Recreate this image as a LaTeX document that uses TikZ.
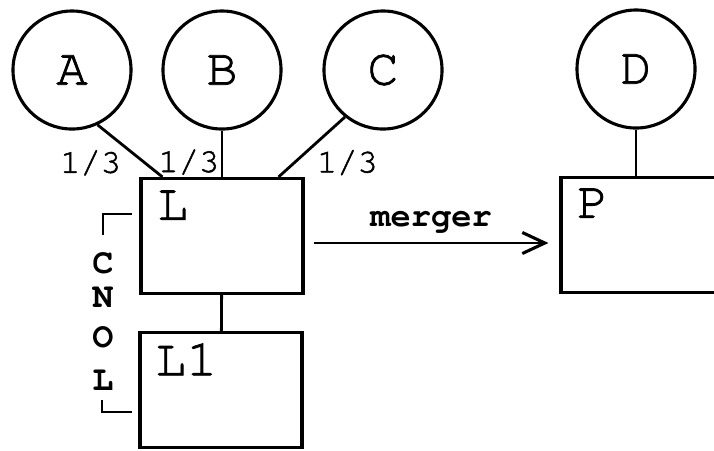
\documentclass[tikz,border=0pt]{standalone}
\usepackage{fontspec}
\setmonofont{texgyrecursor-regular.otf}[BoldFont=texgyrecursor-bold.otf]
\newfontfamily\courthick{texgyrecursor-regular.otf}[FakeBold=1.5]
\usetikzlibrary{arrows.meta,calc}

\begin{document}
\begin{tikzpicture}[x=0.025cm,y=-0.025cm,line width=2.2pt,
  party/.style={circle,draw,minimum size=2.95cm,inner sep=0pt,font=\courthick\fontsize{37}{37}\selectfont},
  firm/.style={rectangle,draw,minimum width=4.05cm,minimum height=2.875cm,inner sep=0pt},
  tag/.style={anchor=north west,inner sep=0pt,font=\courthick\fontsize{37}{37}\selectfont},
  share/.style={inner sep=0pt,font=\courthick\fontsize{24}{24}\selectfont},
  vert/.style={inner sep=0pt,font=\ttfamily\bfseries\fontsize{25}{25}\selectfont},
  link/.style={line width=2pt},
  merge/.style={line width=2pt,-{Straight Barb[length=16pt,width=15pt,line width=2.2pt]}}]
\useasboundingbox (0,0) rectangle (714,450);

% shareholders
\path (72,70) node[party] (A) {A};
\path (222,70) node[party] (B) {B};
\path (383,70) node[party] (C) {C};
\path (636,69) node[party] (D) {D};

% firms
\path (222,236) node[firm] (L) {};
\path (221,390) node[firm] (L1) {};
\path (642,235) node[firm] (P) {};
\path ([shift={(16,12)}]L.north west) node[tag] (Lname) {L};
\path ([shift={(15,11)}]L1.north west) node[tag] (L1name) {L1};
\path ([shift={(16,11)}]P.north west) node[tag] (Pname) {P};

% ownership
\draw[link] (A.-65) -- node[share,left,pos=.73,xshift=-16pt] (sA) {1/3} ($(L.north west)+(23,0)$);
\draw[link] (B.south) -- node[share,left,pos=.68,xshift=-1pt] (sB) {1/3} (B.south |- L.north);
\draw[link] (C.-129) -- node[share,right,pos=.76,xshift=15pt] (sC) {1/3} ($(L.north east)+(-26,0)$);
\draw[link] (D.south) -- (D.south |- P.north);
\draw[link] (L) -- (L1);

% merger
\draw[merge] ($(L.east)+(9,7)$) -- node[vert,above,yshift=6pt,font=\ttfamily\bfseries\fontsize{24}{24}\selectfont] (m) {merger} ($(P.west)+(-11,8)$);

% CNOL
\path (103,263) node[vert] (c) {C};
\path (103,297) node[vert] (n) {N};
\path (103,337) node[vert] (o) {O};
\path (103,380) node[vert] (l) {L};
\coordinate (top) at (103,214);
\coordinate (bot) at (102,412);
\draw[link] ($(top)+(29,0)$) -- (top) -- ($(top)+(0,21)$);
\draw[link] ($(bot)+(0,-12)$) -- (bot) -- ($(bot)+(30,0)$);
\end{tikzpicture}
\end{document}
